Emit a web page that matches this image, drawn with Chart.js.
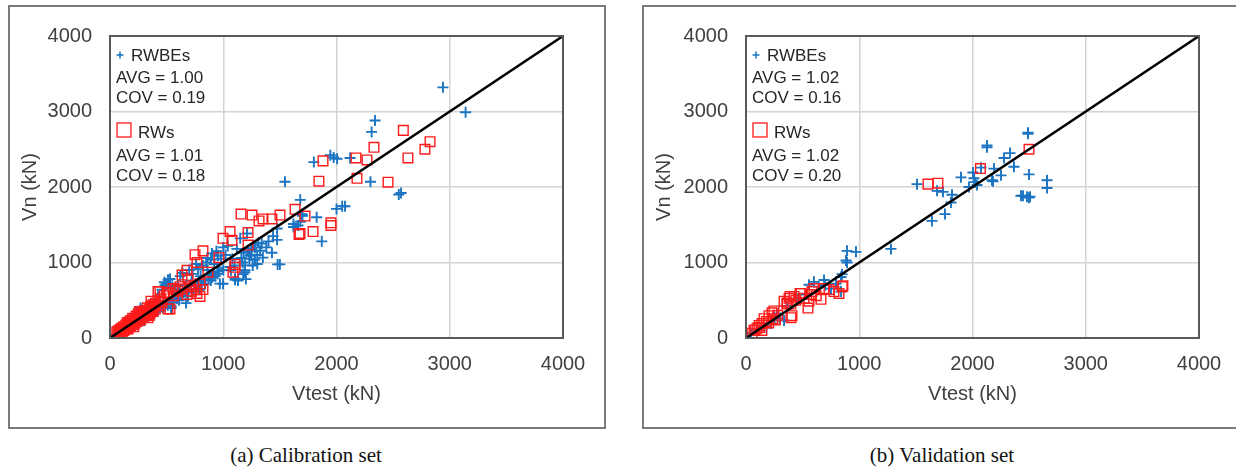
<!DOCTYPE html>
<html>
<head>
<meta charset="utf-8">
<script src="https://cdn.jsdelivr.net/npm/chart.js@4.4.1/dist/chart.umd.min.js"></script>
<style>
    body {
        margin: 0;
        width: 1236px;
        height: 468px;
        background: #fff;
        position: relative;
        overflow: hidden;
        font-family: "Liberation Sans", Arial, sans-serif;
    }

    .panel {
        position: absolute;
        top: 5px;
        height: 424px;
        border: 2px solid #7a7a7a;
        box-sizing: border-box;
    }

    canvas {
        position: absolute;
    }

    .caption {
        position: absolute;
        top: 443px;
        width: 400px;
        text-align: center;
        font-family: "Liberation Serif", "Times New Roman", serif;
        font-size: 21px;
        color: #111;
    }
</style>
</head>
<body>
<div class="panel" style="left:8px;width:598px"></div>
<div class="panel" style="left:642px;width:600px"></div>
<canvas id="calChart" width="596" height="422" style="left:9px;top:6px"></canvas>
<canvas id="valChart" width="593" height="422" style="left:643px;top:6px"></canvas>
<div class="caption" style="left:106px">(a) Calibration set</div>
<div class="caption" style="left:742px">(b) Validation set</div>

<script>
//============================================= Data =============================================//
const axisTicks = [0, 1000, 2000, 3000, 4000];
const diagonal = [[0, 0], [4000, 4000]];

// [Vtest, Vn] in kN
const calRWBEs = [
    [2940, 3320], [3140, 2990], [2340, 2880], [2310, 2730], [2300, 2070], [2550, 1900], [2570, 1920],
    [1945, 2420], [1975, 2390], [2005, 2375], [1800, 2330], [2120, 2385], [1545, 2070],
    [1870, 1280], [2050, 1745], [2075, 1745], [2000, 1710], [1700, 1620], [1825, 1600], [1680, 1830], [1695, 1640],
    [1500, 975], [1430, 1130], [1475, 1450], [1475, 1300], [1620, 1510], [1660, 1490], [1620, 1470], [1680, 1540],
    [1265, 1230], [1190, 870], [1105, 790], [970, 720], [1060, 940], [1150, 1320], [1210, 1385], [1325, 1155],
    [1350, 1065], [1340, 1250], [1380, 1200], [1300, 1100], [1250, 1180], [1400, 1280], [1440, 1350], [1230, 1050],
    [1170, 1000], [1120, 1180], [1080, 1050], [1000, 900], [950, 850], [1020, 1100], [1100, 960], [1180, 1130],
    [1260, 960], [1300, 980], [1200, 780], [1130, 760], [1176, 846], [1192, 897], [1236, 1090], [1480, 975],
    [30, 30], [60, 50], [90, 80], [120, 110], [150, 130], [180, 170], [200, 150], [230, 200], [250, 240],
    [280, 260], [300, 230], [320, 290], [350, 300], [380, 320], [400, 380], [420, 350], [450, 430], [470, 400],
    [500, 460], [520, 500], [540, 420], [560, 520], [580, 600], [600, 560], [620, 640], [650, 600], [670, 700],
    [700, 650], [720, 760], [750, 700], [780, 740], [800, 820], [830, 760], [860, 900], [880, 840], [900, 800],
    [920, 980], [950, 930], [980, 1050], [270, 397], [397, 462], [424, 551], [486, 705], [512, 770], [530, 782],
    [539, 397], [574, 641], [671, 462], [689, 551], [777, 910], [892, 1038], [954, 1090], [998, 718], [1068, 897],
    [1104, 770], [1192, 962], [1245, 1103], [1280, 1038], [460, 640], [480, 740], [500, 720], [550, 680], [600, 700],
    [620, 820], [640, 860], [700, 900], [730, 850], [760, 980], [820, 960], [850, 1000], [900, 1120], [860, 1060],
    [940, 1150], [1000, 1200], [1040, 1220],
    [100, 90], [140, 100], [170, 140], [210, 180], [260, 210], [290, 280], [330, 270], [360, 350], [390, 340],
    [430, 400], [440, 460], [480, 420], [510, 430], [560, 470], [590, 520], [610, 500], [630, 560], [660, 620],
    [690, 610], [710, 700], [740, 640], [770, 690], [790, 640], [810, 700], [840, 720], [870, 780], [890, 760],
    [910, 860], [930, 820], [960, 880], [1160, 1060], [1220, 1150], [1280, 1200], [1310, 1260]
];

const calRWs = [
    [2590, 2750], [2826, 2600], [2781, 2500], [2331, 2526], [2631, 2385], [2172, 2385], [2269, 2359],
    [1881, 2346], [1845, 2077], [2181, 2115], [2455, 2064],
    [1722, 1615], [1793, 1410], [1951, 1526], [1951, 1490], [1678, 1385], [1669, 1372],
    [1157, 1641], [1254, 1628], [1316, 1551], [1351, 1577], [1430, 1577], [1501, 1628], [1634, 1705],
    [1060, 1410], [1077, 1295], [998, 1320], [1219, 1397], [1219, 1231], [962, 1064], [1104, 936], [1086, 872],
    [1104, 974], [751, 1103], [821, 1154], [865, 872], [768, 1000], [680, 897], [636, 833], [689, 782],
    [618, 680], [680, 577], [768, 590], [795, 718], [821, 641], [795, 551], [556, 654], [441, 615], [512, 590],
    [424, 487], [530, 385], [371, 359], [336, 269], [424, 615], [503, 603], [362, 487], [512, 385],
    [60, 80], [80, 100], [90, 60], [100, 130], [110, 90], [120, 150], [130, 110], [140, 170], [150, 140],
    [160, 120], [170, 190], [180, 160], [190, 210], [200, 180], [210, 240], [220, 200], [230, 260], [240, 220],
    [250, 280], [260, 250], [270, 300], [280, 270], [290, 320], [300, 290], [310, 340], [320, 300], [330, 360],
    [340, 320], [350, 380], [360, 340], [370, 400], [380, 350], [390, 420], [400, 380], [150, 200], [200, 260],
    [250, 320], [300, 360], [180, 230], [230, 290], [280, 330], [330, 400], [120, 100], [100, 80], [140, 120],
    [70, 90], [160, 210], [260, 350], [210, 150], [350, 300],
    [380, 440], [400, 460], [420, 430], [360, 420], [330, 300], [300, 320], [270, 240], [240, 260], [210, 200],
    [190, 230], [170, 150], [130, 140], [110, 120], [90, 110], [80, 70], [460, 470], [450, 520], [480, 560],
    [600, 620], [640, 650], [700, 680], [720, 620], [740, 700], [760, 640], [560, 560], [580, 640]
];

const valRWBEs = [
    [1510, 2038], [1687, 1949], [1739, 1936], [1819, 1897], [1810, 1795], [1757, 1641], [1642, 1551],
    [1898, 2128], [2004, 2192], [2013, 2115], [2040, 2026], [1969, 2000], [2022, 2064], [2075, 2256],
    [2128, 2551], [2128, 2526], [2190, 2244], [2252, 2154], [2172, 2090], [2181, 2077], [2331, 2449],
    [2366, 2269], [2278, 2385], [2490, 2718], [2490, 2705], [2499, 2167], [2428, 1885], [2446, 1885],
    [2481, 1872], [2499, 1859], [2508, 1872], [2658, 2090], [2658, 1987],
    [892, 1154], [971, 1141], [883, 1026], [892, 1000], [1280, 1180], [848, 846], [839, 808], [689, 769],
    [600, 744], [556, 705], [795, 718], [751, 654], [839, 615], [530, 577], [362, 423], [336, 231], [274, 321],
    [247, 231], [159, 167], [221, 192], [97, 103], [44, 64], [450, 520], [640, 680], [700, 700], [250, 280],
    [180, 140], [300, 260]
];

const valRWs = [
    [1607, 2038], [1695, 2051], [2070, 2244], [2499, 2500],
    [856, 692], [850, 680], [689, 654], [600, 654], [574, 577], [486, 590], [424, 551], [380, 526], [397, 449],
    [556, 487], [662, 513], [777, 615], [821, 590], [733, 641], [512, 526], [362, 449], [336, 487], [397, 269],
    [247, 359], [203, 295], [159, 256], [115, 167], [71, 103], [97, 128], [583, 615], [477, 590], [389, 551],
    [362, 462], [547, 397], [406, 295], [230, 333], [141, 192], [79, 103], [53, 64], [238, 256], [120, 140],
    [180, 220], [200, 200], [280, 300], [140, 100], [260, 240], [440, 500], [620, 560]
];

const calStats = ['AVG = 1.00', 'COV = 0.19', 'AVG = 1.01', 'COV = 0.18'];
const valStats = ['AVG = 1.02', 'COV = 0.16', 'AVG = 1.02', 'COV = 0.20'];

//============================================= Style =============================================//
const FONT = '"Liberation Sans", Arial, sans-serif';
const BLUE = '#1a74c2';
const RED = '#ff1a1a';
const TEXT = '#404040';
const GRID = '#d4d4d4';

const toPoints = (rows) => rows.map(([x, y]) => ({ x: x, y: y }));

//============================================= Plugins =============================================//
// dark frame round the plot area
const plotFrame = {
    id: 'plotFrame',
    afterDatasetsDraw(chart) {
        const { ctx, chartArea: { left, top, width, height } } = chart;
        ctx.save();
        ctx.strokeStyle = '#595959';
        ctx.lineWidth = 2;
        ctx.strokeRect(left, top, width, height);
        ctx.restore();
    }
};

// marker key with the statistics under each series name
const statsBox = {
    id: 'statsBox',
    afterDraw(chart, args, opts) {
        const { ctx, chartArea: { left, top } } = chart;
        const s = opts.lines;
        ctx.save();
        ctx.font = '17px ' + FONT;
        ctx.fillStyle = '#262626';
        ctx.textBaseline = 'alphabetic';

        ctx.strokeStyle = BLUE;
        ctx.lineWidth = 1.5;
        ctx.beginPath();
        ctx.moveTo(left + 6.5, top + 19);
        ctx.lineTo(left + 13.5, top + 19);
        ctx.moveTo(left + 10, top + 15.5);
        ctx.lineTo(left + 10, top + 22.5);
        ctx.stroke();
        ctx.fillText('RWBEs', left + 21, top + 25);
        ctx.fillText(s[0], left + 6, top + 47);
        ctx.fillText(s[1], left + 6, top + 67);

        ctx.strokeStyle = RED;
        ctx.lineWidth = 1.3;
        ctx.strokeRect(left + 7, top + 87, 14, 14);
        ctx.fillText('RWs', left + 28, top + 102);
        ctx.fillText(s[2], left + 6, top + 125);
        ctx.fillText(s[3], left + 6, top + 145);
        ctx.restore();
    }
};

//============================================= Charts =============================================//
function makeChart(id, rwbes, rws, stats, yWidth, padRight) {
    const scaleBase = {
        type: 'linear',
        min: axisTicks[0],
        max: axisTicks[axisTicks.length - 1],
        afterBuildTicks: (scale) => {
            scale.ticks = axisTicks.map(v => ({ value: v }));
        },
        grid: {
            color: GRID,
            lineWidth: 1.5,
            drawTicks: false,
        },
        border: {
            display: false,
        },
    };
    const tickLabel = (value) => String(value);

    return new Chart(document.getElementById(id), {
        type: 'scatter',
        data: {
            datasets: [
                {
                    label: 'Vn = Vtest',
                    data: toPoints(diagonal),
                    showLine: true,
                    borderColor: '#000',
                    borderWidth: 2.5,
                    pointRadius: 0,
                    order: 1
                },
                {
                    label: 'RWs',
                    data: toPoints(rws),
                    pointStyle: 'rect',
                    pointRadius: 6.8,
                    borderColor: RED,
                    backgroundColor: 'rgba(0,0,0,0)',
                    borderWidth: 1.4,
                    order: 2
                },
                {
                    label: 'RWBEs',
                    data: toPoints(rwbes),
                    pointStyle: 'cross',
                    pointRadius: 5.5,
                    borderColor: BLUE,
                    borderWidth: 1.9,
                    order: 3
                },
            ]
        },
        options: {
            responsive: false,
            animation: false,
            events: [],
            layout: {
                padding: { left: 0, top: 20, right: padRight, bottom: 0 }
            },
            plugins: {
                legend: { display: false },
                tooltip: { enabled: false },
                statsBox: { lines: stats },
            },
            scales: {
                x: Object.assign({}, scaleBase, {
                    position: 'bottom',
                    ticks: {
                        font: { size: 20, family: FONT },
                        color: TEXT,
                        padding: 14,
                        maxRotation: 0,
                        callback: tickLabel,
                    },
                    title: {
                        display: true,
                        text: 'Vtest (kN)',
                        font: { size: 20, family: FONT },
                        color: TEXT,
                        padding: { top: 0, bottom: 22 },
                    },
                    afterFit: (scale) => { scale.height = 90; },
                }),
                y: Object.assign({}, scaleBase, {
                    position: 'left',
                    ticks: {
                        font: { size: 20, family: FONT },
                        color: TEXT,
                        padding: 18,
                        callback: tickLabel,
                    },
                    title: {
                        display: true,
                        text: 'Vn (kN)',
                        font: { size: 20, family: FONT },
                        color: TEXT,
                        padding: { top: 9, bottom: 0 },
                    },
                    afterFit: (scale) => { scale.width = yWidth; },
                }),
            }
        },
        plugins: [plotFrame, statsBox]
    });
}

makeChart('calChart', calRWBEs, calRWs, calStats, 101, 42);
makeChart('valChart', valRWBEs, valRWs, valStats, 103, 37);
</script>
</body>
</html>
